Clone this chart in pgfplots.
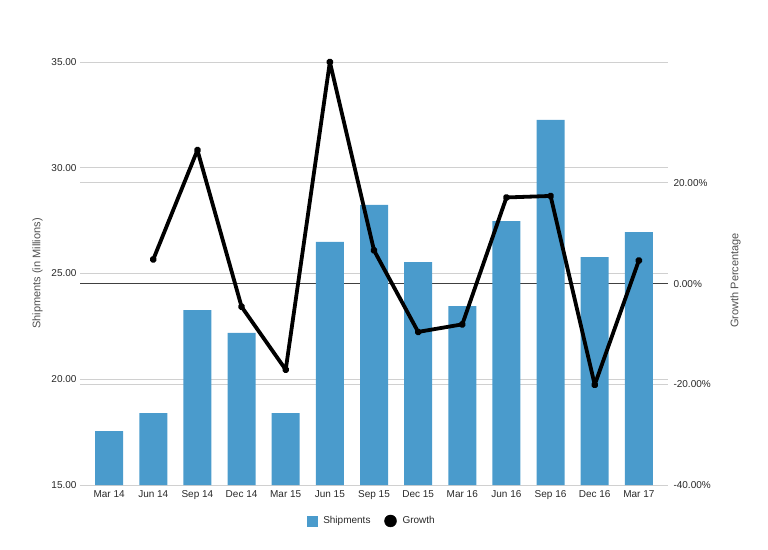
\documentclass[border=0pt]{standalone}
\usepackage{pgfplots}
\pgfplotsset{compat=1.18}
\usepackage{fontspec}
\setmainfont{Liberation Sans}
\definecolor{barblue}{RGB}{74,155,204}
\definecolor{gridgray}{RGB}{208,208,208}
\definecolor{labgray}{RGB}{80,80,80}
\definecolor{ticktext}{RGB}{40,40,40}
\begin{document}
\begin{tikzpicture}[x=1pt,y=1pt]
\path[use as bounding box] (0,0) rectangle (768,549);
\pgfplotsset{
  base/.style={
    at={(80pt,64pt)}, anchor=south west,
    width=588pt, height=423pt, scale only axis,
    xmin=-0.66, xmax=12.66,
    axis line style={draw=none},
    major tick length=0pt, tick style={draw=none},
    ticklabel style={font=\fontsize{10}{12}\selectfont, text=ticktext},
    /pgf/number format/assume math mode=true,
  }
}
% right scale: grid and labels
\begin{axis}[base,
  ymin=-40, ymax=44,
  xtick=\empty,
  ytick={-40,-20,20},
  yticklabel pos=right,
  yticklabel={\pgfmathprintnumber[fixed,fixed zerofill,precision=2]{\tick}\%},
  extra y ticks={0},
  extra y tick labels={0.00\%},
  extra y tick style={grid style={draw=black!75, line width=0.8pt}},
  ymajorgrids, grid style={draw=gridgray, line width=0.8pt},
  yticklabel style={xshift=2pt},
  ylabel={Growth Percentage},
  ylabel style={font=\fontsize{11}{13}\selectfont, text=labgray,
    at={(axis description cs:1.115,0.484)}, anchor=center, rotate=0},
]
\addplot[draw=none, forget plot] coordinates {(0,0)};
\end{axis}
% left scale: bars
\begin{axis}[base,
  ymin=15, ymax=35,
  ytick={15,20,25,30,35},
  yticklabel={\pgfmathprintnumber[fixed,fixed zerofill,precision=2]{\tick}},
  ymajorgrids, grid style={draw=gridgray, line width=0.8pt},
  xtick={0,...,12},
  xticklabels={Mar 14,Jun 14,Sep 14,Dec 14,Mar 15,Jun 15,Sep 15,Dec 15,Mar 16,Jun 16,Sep 16,Dec 16,Mar 17},
  xticklabel style={yshift=-2pt},
  ylabel={Shipments (in Millions)},
  ylabel style={font=\fontsize{11}{13}\selectfont, text=labgray, yshift=2pt},
  legend columns=2,
  legend style={at={(0.5,-0.085)}, anchor=center, draw=none, fill=none,
    font=\fontsize{10}{12}\selectfont, text=ticktext,
    nodes={inner xsep=6pt},
    /tikz/every even column/.append style={column sep=8pt}},
]
\addplot[ybar, bar width=28pt, bar shift=0pt, fill=barblue, draw=none, forget plot] coordinates {
(0,17.55) (1,18.40) (2,23.27) (3,22.19) (4,18.40) (5,26.49) (6,28.24)
(7,25.54) (8,23.46) (9,27.48) (10,32.26) (11,25.78) (12,26.96)};
\addlegendimage{only marks, mark=square*, mark size=5pt, color=barblue}
\addlegendentry{Shipments}
\addlegendimage{only marks, mark=*, mark size=6pt, color=black}
\addlegendentry{Growth}
\end{axis}
% growth line
\begin{axis}[base, ymin=-40, ymax=44, hide axis, clip=false]
\addplot[black, line width=3.8pt, line join=round, mark=*, mark size=1.8pt] coordinates {
(1,4.8) (2,26.5) (3,-4.6) (4,-17.1) (5,44.0) (6,6.6) (7,-9.6)
(8,-8.1) (9,17.1) (10,17.4) (11,-20.1) (12,4.6)};
\end{axis}
\end{tikzpicture}
\end{document}
